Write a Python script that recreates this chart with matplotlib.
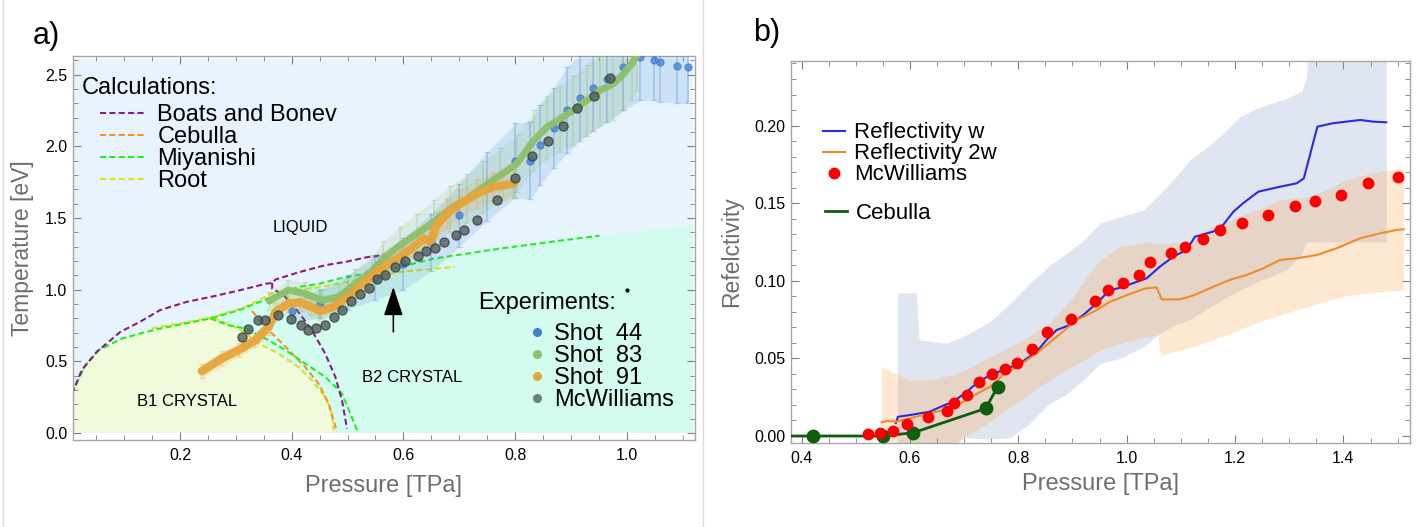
import matplotlib
matplotlib.use('Agg')
import matplotlib.pyplot as plt
import numpy as np
from matplotlib.lines import Line2D
from matplotlib.ticker import MultipleLocator, FormatStrFormatter

plt.rcParams['font.family'] = ['Liberation Sans', 'DejaVu Sans']

# ---------------- panel a) phase diagram ----------------
# Boats and Bonev
boats_melt_p = [0.0066, 0.024, 0.051, 0.093, 0.128, 0.164, 0.212, 0.26, 0.307, 0.353, 0.365, 0.371, 0.412, 0.46, 0.496, 0.534, 0.57]
boats_melt_t = [0.27, 0.437, 0.565, 0.704, 0.774, 0.856, 0.914, 0.953, 0.995, 1.04, 1.046, 1.07, 1.12, 1.17, 1.193, 1.225, 1.245]
boats_b12_p = [0.365, 0.365, 0.386, 0.412, 0.436, 0.46, 0.478, 0.49, 0.499]
boats_b12_t = [1.046, 1.007, 0.96, 0.844, 0.716, 0.553, 0.391, 0.228, 0.03]
# Miyanishi
miy_low_p = [0.0066, 0.0305, 0.0544, 0.096, 0.156, 0.209, 0.254]
miy_low_t = [0.28, 0.472, 0.577, 0.658, 0.721, 0.763, 0.798]
miy_high_p = [0.254, 0.305, 0.365, 0.412, 0.451, 0.484, 0.594, 0.654, 0.714, 0.773, 0.862, 0.951]
miy_high_t = [0.798, 0.855, 0.949, 1.018, 1.042, 1.076, 1.158, 1.216, 1.251, 1.286, 1.332, 1.376]
miy_b12_p = [0.254, 0.287, 0.317, 0.353, 0.389, 0.424, 0.46, 0.49, 0.517]
miy_b12_t = [0.798, 0.751, 0.728, 0.658, 0.577, 0.484, 0.391, 0.275, 0.02]
# Root
root_melt_p = [0.15, 0.209, 0.254, 0.269, 0.317, 0.365, 0.451, 0.594, 0.692]
root_melt_t = [0.73, 0.77, 0.805, 0.821, 0.879, 0.972, 1.018, 1.123, 1.158]
root_b12_p = [0.26, 0.305, 0.341, 0.377, 0.412, 0.436, 0.46, 0.472, 0.475]
root_b12_t = [0.80, 0.728, 0.623, 0.553, 0.46, 0.367, 0.251, 0.135, 0.019]
# Cebulla
ceb_b12_p = [0.329, 0.353, 0.389, 0.424, 0.448, 0.466, 0.481]
ceb_b12_t = [0.85, 0.74, 0.60, 0.46, 0.344, 0.205, 0.008]

# region edges
region_p = [0.0066, 1.118]
region_top = 2.61
b2_right_t = 1.45

# experiments
s44_p = [0.40, 0.45, 0.50, 0.55, 0.60, 0.65, 0.70, 0.75, 0.80, 0.827, 0.845, 0.869, 0.893, 0.916, 0.94, 0.964, 0.994, 1.024, 1.048, 1.06, 1.09, 1.11]
s44_t = [0.85, 0.90, 0.98, 1.08, 1.18, 1.33, 1.52, 1.72, 1.90, 1.90, 2.01, 2.13, 2.25, 2.34, 2.41, 2.47, 2.55, 2.62, 2.60, 2.59, 2.56, 2.55]
s44_err = [0.08, 0.10, 0.12, 0.15, 0.18, 0.20, 0.22, 0.24, 0.26, 0.27, 0.28, 0.28, 0.30, 0.30, 0.30, 0.30, 0.30, 0.30, 0.28, 0.28, 0.26, 0.25]

s83_p = [0.36, 0.394, 0.424, 0.454, 0.484, 0.514, 0.544, 0.564, 0.594, 0.624, 0.654, 0.684, 0.714, 0.743, 0.773, 0.803, 0.833, 0.857, 0.881, 0.904, 0.928, 0.952, 0.976, 0.994, 1.009, 1.018]
s83_t = [0.92, 0.996, 0.972, 0.925, 0.949, 1.041, 1.13, 1.216, 1.309, 1.39, 1.472, 1.565, 1.634, 1.716, 1.797, 1.878, 2.04, 2.134, 2.192, 2.25, 2.32, 2.39, 2.436, 2.506, 2.576, 2.634]
s83_err = [0.06, 0.07, 0.08, 0.08, 0.09, 0.10, 0.11, 0.12, 0.13, 0.14, 0.15, 0.16, 0.17, 0.18, 0.19, 0.20, 0.21, 0.22, 0.23, 0.24, 0.25, 0.25, 0.25, 0.25, 0.25, 0.25]

s91_p = [0.239, 0.275, 0.305, 0.335, 0.359, 0.371, 0.394, 0.415, 0.435, 0.451, 0.475, 0.505, 0.534, 0.564, 0.594, 0.618, 0.636, 0.648, 0.66, 0.678, 0.702, 0.732, 0.761, 0.779, 0.797]
s91_t = [0.43, 0.519, 0.577, 0.647, 0.74, 0.844, 0.902, 0.91, 0.88, 0.85, 0.879, 0.965, 1.065, 1.158, 1.228, 1.297, 1.355, 1.335, 1.45, 1.53, 1.60, 1.67, 1.716, 1.728, 1.739]
s91_err = [0.05, 0.05, 0.05, 0.05, 0.06, 0.06, 0.06, 0.06, 0.06, 0.06, 0.06, 0.07, 0.07, 0.08, 0.08, 0.08, 0.09, 0.09, 0.09, 0.10, 0.10, 0.10, 0.10, 0.10, 0.10]

mcw_l_p = [0.311, 0.322, 0.34, 0.353, 0.375, 0.398, 0.417, 0.429, 0.443, 0.459, 0.475, 0.49, 0.507, 0.522, 0.539, 0.553, 0.567, 0.585, 0.602, 0.626, 0.641, 0.657, 0.673, 0.695, 0.708, 0.732, 0.768, 0.80, 0.831, 0.859, 0.885, 0.911, 0.941, 0.97]
mcw_l_t = [0.67, 0.728, 0.786, 0.79, 0.821, 0.797, 0.751, 0.72, 0.735, 0.755, 0.807, 0.86, 0.918, 0.97, 1.013, 1.071, 1.099, 1.157, 1.2, 1.232, 1.269, 1.293, 1.334, 1.382, 1.416, 1.483, 1.625, 1.777, 1.93, 2.036, 2.139, 2.267, 2.348, 2.478]

# ---------------- panel b) reflectivity ----------------
rw_p = [0.574, 0.578, 0.60, 0.637, 0.661, 0.68, 0.705, 0.723, 0.748, 0.772, 0.803, 0.834, 0.852, 0.871, 0.895, 0.92, 0.945, 0.967, 0.994, 1.037, 1.061, 1.086, 1.111, 1.126, 1.16, 1.178, 1.197, 1.215, 1.243, 1.283, 1.314, 1.327, 1.352, 1.381, 1.431, 1.455, 1.479]
rw_r = [0.0082, 0.0124, 0.0135, 0.0157, 0.0195, 0.0221, 0.0285, 0.034, 0.0393, 0.0425, 0.0468, 0.0543, 0.0619, 0.0683, 0.0715, 0.078, 0.0855, 0.0935, 0.0962, 0.1016, 0.109, 0.1155, 0.120, 0.1284, 0.1317, 0.136, 0.1445, 0.150, 0.1574, 0.1606, 0.1628, 0.166, 0.1993, 0.2015, 0.2036, 0.2025, 0.2021]

r2w_p = [0.548, 0.557, 0.574, 0.60, 0.637, 0.674, 0.705, 0.723, 0.748, 0.772, 0.803, 0.834, 0.871, 0.908, 0.945, 0.969, 1.006, 1.034, 1.055, 1.065, 1.098, 1.126, 1.16, 1.19, 1.221, 1.252, 1.283, 1.314, 1.351, 1.388, 1.431, 1.468, 1.498, 1.511]
r2w_r = [0.0088, 0.0097, 0.0093, 0.0114, 0.0146, 0.0178, 0.0232, 0.027, 0.0318, 0.0393, 0.0457, 0.0533, 0.064, 0.0747, 0.0812, 0.0865, 0.0915, 0.095, 0.0958, 0.088, 0.088, 0.0909, 0.0962, 0.1005, 0.1037, 0.108, 0.1134, 0.1145, 0.1166, 0.121, 0.1274, 0.1306, 0.1327, 0.1332]

bw_p = [0.577, 0.612, 0.617, 0.668, 0.698, 0.748, 0.785, 0.821, 0.858, 0.889, 0.92, 0.951, 0.988, 1.031, 1.061, 1.086, 1.117, 1.148, 1.178, 1.209, 1.246, 1.295, 1.323, 1.332, 1.337, 1.479]
bw_hi = [0.0923, 0.0923, 0.062, 0.0597, 0.064, 0.0737, 0.0855, 0.0984, 0.110, 0.1177, 0.126, 0.137, 0.1413, 0.1456, 0.156, 0.165, 0.178, 0.186, 0.195, 0.2057, 0.212, 0.2175, 0.222, 0.2315, 0.26, 0.26]
bw_lo = [-0.01, -0.01, -0.01, -0.01, -0.001, -0.002, -0.001, 0.008, 0.021, 0.027, 0.036, 0.0468, 0.050, 0.0575, 0.066, 0.071, 0.075, 0.082, 0.088, 0.094, 0.100, 0.107, 0.117, 0.125, 0.125, 0.125]

b2w_p = [0.548, 0.575, 0.60, 0.64, 0.686, 0.705, 0.748, 0.809, 0.858, 0.901, 0.932, 0.951, 0.988, 1.037, 1.058, 1.062, 1.117, 1.16, 1.19, 1.24, 1.283, 1.332, 1.369, 1.406, 1.449, 1.486, 1.511]
b2w_hi = [0.0447, 0.040, 0.036, 0.036, 0.0404, 0.043, 0.051, 0.0619, 0.0726, 0.0898, 0.1048, 0.1134, 0.122, 0.125, 0.124, 0.124, 0.125, 0.135, 0.139, 0.1456, 0.152, 0.154, 0.1585, 0.165, 0.169, 0.1714, 0.1725]
b2w_lo = [-0.01, -0.01, -0.01, -0.01, -0.005, 0.0, 0.0092, 0.0245, 0.036, 0.045, 0.051, 0.0554, 0.0597, 0.064, 0.065, 0.052, 0.057, 0.062, 0.066, 0.073, 0.078, 0.083, 0.087, 0.0905, 0.092, 0.0935, 0.094]

mcw_r_p = [0.523, 0.5445, 0.568, 0.595, 0.634, 0.668, 0.682, 0.705, 0.728, 0.751, 0.775, 0.797, 0.826, 0.853, 0.897, 0.941, 0.965, 0.994, 1.023, 1.043, 1.082, 1.108, 1.140, 1.172, 1.212, 1.261, 1.311, 1.347, 1.396, 1.445, 1.501]
mcw_r_r = [0.0011, 0.0017, 0.0034, 0.0079, 0.0124, 0.0161, 0.0215, 0.0266, 0.0348, 0.040, 0.043, 0.0468, 0.0563, 0.067, 0.0756, 0.0872, 0.094, 0.0984, 0.104, 0.112, 0.1177, 0.122, 0.1267, 0.1327, 0.1372, 0.1426, 0.1484, 0.1512, 0.155, 0.1632, 0.167]

ceb_r_p = [0.38, 0.421, 0.551, 0.606, 0.740, 0.762]
ceb_r_r = [0.0, 0.0, 0.0, 0.0021, 0.0178, 0.0318]

c_boats = '#8a1a8a'
c_ceb = '#ff8c1e'
c_miy = '#22ee22'
c_root = '#dede22'
c_s44 = '#3f7fcf'
c_s83 = '#8dc06b'
c_s91 = '#e8a53a'
c_mcw = '#4f5c5a'
dash = (0, (2.9, 1.6))
label_grey = '#6e6e6e'
spine_grey = '#a6a6a6'
leg_fs = 17

fig = plt.figure(figsize=(14.18, 5.27), dpi=100)
ax1 = fig.add_axes([0.0513, 0.1651, 0.4388, 0.7286])
ax2 = fig.add_axes([0.5576, 0.1594, 0.4368, 0.7249])

# --- left background regions
ax1.fill_between(region_p, 0, region_top, color='#e8f4fd', lw=0, zorder=0)
b2_p = miy_high_p + [region_p[1], region_p[1], root_b12_p[-1]] + root_b12_p[::-1]
b2_t = miy_high_t + [b2_right_t, 0, 0] + root_b12_t[::-1]
ax1.fill(b2_p, b2_t, color='#d3fbef', lw=0, zorder=0.5)
b1_p = [miy_low_p[0]] + miy_low_p + root_b12_p + [root_b12_p[-1]]
b1_t = [0] + miy_low_t + root_b12_t + [0]
ax1.fill(b1_p, b1_t, color='#effbda', lw=0, zorder=0.6)

# --- calculated phase lines
ax1.plot(root_melt_p, root_melt_t, color=c_root, ls=dash, lw=1.5, zorder=2)
ax1.plot(root_b12_p, root_b12_t, color=c_root, ls=dash, lw=1.5, zorder=2)
ax1.plot(ceb_b12_p, ceb_b12_t, color=c_ceb, ls=dash, lw=1.5, zorder=2)
ax1.plot(miy_low_p + miy_high_p[1:], miy_low_t + miy_high_t[1:], color=c_miy, ls=dash, lw=1.5, zorder=2.1)
ax1.plot(miy_b12_p, miy_b12_t, color=c_miy, ls=dash, lw=1.5, zorder=2.1)
ax1.plot(boats_melt_p, boats_melt_t, color=c_boats, ls=dash, lw=1.5, zorder=2.2)
ax1.plot(boats_b12_p, boats_b12_t, color=c_boats, ls=dash, lw=1.5, zorder=2.2)

# --- experiments
for p, t, e, c in [(s44_p, s44_t, s44_err, c_s44), (s83_p, s83_t, s83_err, c_s83), (s91_p, s91_t, s91_err, c_s91)]:
    p = np.array(p); t = np.array(t); e = np.array(e)
    ax1.fill_between(p, t - e, t + e, color=c, alpha=0.16, lw=0, zorder=3)
    ax1.errorbar(p, t, yerr=e, fmt='none', ecolor=c, alpha=0.3, elinewidth=1.2, capsize=2, zorder=3.1)
ax1.plot(s44_p, s44_t, 'o', color=c_s44, ms=5, alpha=0.75, zorder=3.5)
ax1.plot(s83_p, s83_t, '-', color=c_s83, lw=5, alpha=0.95, solid_capstyle='round', zorder=3.6)
ax1.plot(s91_p, s91_t, '-', color=c_s91, lw=6, alpha=0.95, solid_capstyle='round', zorder=3.7)
ax1.plot(mcw_l_p, mcw_l_t, 'o', color=c_mcw, mec='#3a4443', ms=6.5, alpha=0.8, zorder=4)

ax1.annotate('', xy=(0.582, 1.018), xytext=(0.582, 0.704),
             arrowprops=dict(arrowstyle='-|>,head_length=0.9,head_width=0.3', color='black', lw=1.1,
                             mutation_scale=20, shrinkA=0, shrinkB=0), zorder=5)
ax1.plot([1.0], [1.0], 'o', color='black', ms=2, zorder=5)

ax1.text(0.416, 1.433, 'LIQUID', fontsize=12, ha='center', va='center', zorder=5)
ax1.text(0.213, 0.216, 'B1 CRYSTAL', fontsize=12, ha='center', va='center', zorder=5)
ax1.text(0.615, 0.388, 'B2 CRYSTAL', fontsize=12, ha='center', va='center', zorder=5)

ax1.text(0.015, 0.917, 'Calculations:', transform=ax1.transAxes, fontsize=leg_fs, va='center', ha='left', zorder=6)
calc_handles = [Line2D([], [], color=c, ls=dash, lw=1.5) for c in [c_boats, c_ceb, c_miy, c_root]]
leg1 = ax1.legend(calc_handles, ['Boats and Bonev', 'Cebulla', 'Miyanishi', 'Root'], loc='upper left',
                  bbox_to_anchor=(0.044, 0.874), frameon=False, fontsize=leg_fs, borderpad=0, borderaxespad=0,
                  labelspacing=0.0, handlelength=1.95, handletextpad=0.47)
ax1.add_artist(leg1)
ax1.text(0.651, 0.357, 'Experiments:', transform=ax1.transAxes, fontsize=leg_fs, va='center', ha='left', zorder=6)
exp_handles = [Line2D([], [], ls='none', marker='o', color=c, ms=5.5) for c in [c_s44, c_s83, c_s91, '#6f7f7c']]
ax1.legend(exp_handles, ['Shot  44', 'Shot  83', 'Shot  91', 'McWilliams'], loc='upper left',
           bbox_to_anchor=(0.735, 0.304), frameon=False, fontsize=leg_fs, borderpad=0, borderaxespad=0,
           labelspacing=0.0, handlelength=0.6, handletextpad=0.4)

ax1.set_xlim(0.008, 1.122)
ax1.set_ylim(-0.05, 2.63)
ax1.xaxis.set_major_locator(MultipleLocator(0.2))
ax1.xaxis.set_minor_locator(MultipleLocator(0.05))
ax1.yaxis.set_major_locator(MultipleLocator(0.5))
ax1.yaxis.set_minor_locator(MultipleLocator(0.1))
ax1.xaxis.set_major_formatter(FormatStrFormatter('%.1f'))
ax1.yaxis.set_major_formatter(FormatStrFormatter('%.1f'))
ax1.set_xlabel('Pressure [TPa]', fontsize=17, color=label_grey)
ax1.set_ylabel('Temperature [eV]', fontsize=16.5, color=label_grey)
ax1.xaxis.set_label_coords(0.5, -0.091)
ax1.yaxis.set_label_coords(-0.063, 0.5)

# --- right panel
ax2.fill_between(bw_p, bw_lo, bw_hi, color=(0.55, 0.65, 0.8), alpha=0.27, lw=0, zorder=1)
ax2.fill_between(b2w_p, b2w_lo, b2w_hi, color=(1.0, 0.6, 0.2), alpha=0.22, lw=0, zorder=1.1)
ax2.plot(rw_p, rw_r, color='#2a2ae0', lw=1.5, zorder=3)
ax2.plot(r2w_p, r2w_r, color='#f08c28', lw=1.5, zorder=3)
ax2.plot(ceb_r_p, ceb_r_r, color='#0d5e0d', lw=2, zorder=3.5)
ax2.plot(ceb_r_p[1:], ceb_r_r[1:], 'o', color='#0d5e0d', ms=9, zorder=3.6)
ax2.plot(mcw_r_p, mcw_r_r, 'o', color='#ff0000', ms=7.5, zorder=4)

refl_handles = [Line2D([], [], color='#2a2ae0', lw=1.5), Line2D([], [], color='#f08c28', lw=1.5),
                Line2D([], [], ls='none', marker='o', color='#ff0000', ms=7.5)]
leg2 = ax2.legend(refl_handles, ['Reflectivity w', 'Reflectivity 2w', 'McWilliams'], loc='upper left',
                  bbox_to_anchor=(0.052, 0.839), frameon=False, fontsize=16, borderpad=0, borderaxespad=0,
                  labelspacing=0.0, handlelength=1.0, handletextpad=0.4)
ax2.add_artist(leg2)
ax2.legend([Line2D([], [], color='#0d5e0d', lw=2)], ['Cebulla'], loc='upper left',
           bbox_to_anchor=(0.055, 0.629), frameon=False, fontsize=16, borderpad=0, borderaxespad=0,
           handlelength=1.0, handletextpad=0.4)

ax2.set_xlim(0.38, 1.523)
ax2.set_ylim(-0.0045, 0.2416)
ax2.xaxis.set_major_locator(MultipleLocator(0.2))
ax2.xaxis.set_minor_locator(MultipleLocator(0.05))
ax2.yaxis.set_major_locator(MultipleLocator(0.05))
ax2.yaxis.set_minor_locator(MultipleLocator(0.01))
ax2.xaxis.set_major_formatter(FormatStrFormatter('%.1f'))
ax2.yaxis.set_major_formatter(FormatStrFormatter('%.2f'))
ax2.set_xlabel('Pressure [TPa]', fontsize=17, color=label_grey)
ax2.set_ylabel('Refelctivity', fontsize=16.5, color=label_grey)
ax2.xaxis.set_label_coords(0.5, -0.0785)
ax2.yaxis.set_label_coords(-0.0765, 0.5)

for ax in (ax1, ax2):
    for s in ax.spines.values():
        s.set_color(spine_grey)
        s.set_linewidth(1.0)
    ax.tick_params(which='both', direction='in', top=True, right=True, color='#808080', labelsize=11.5)
    ax.tick_params(which='major', length=6, width=0.8, pad=6)
    ax.tick_params(which='minor', length=3.5, width=0.6)
    ax.tick_params(axis='y', which='major', pad=4)

fig.text(0.0233, 0.932, 'a)', fontsize=22, va='center', ha='left')
fig.text(0.531, 0.937, 'b)', fontsize=22, va='center', ha='left')
fig.add_artist(Line2D([0.0021, 0.0021], [0.0, 1.0], color='#dddddd', lw=1))
fig.add_artist(Line2D([0.4958, 0.4958], [0.0, 1.0], color='#dddddd', lw=1))

fig.savefig('out.png', dpi=100)
